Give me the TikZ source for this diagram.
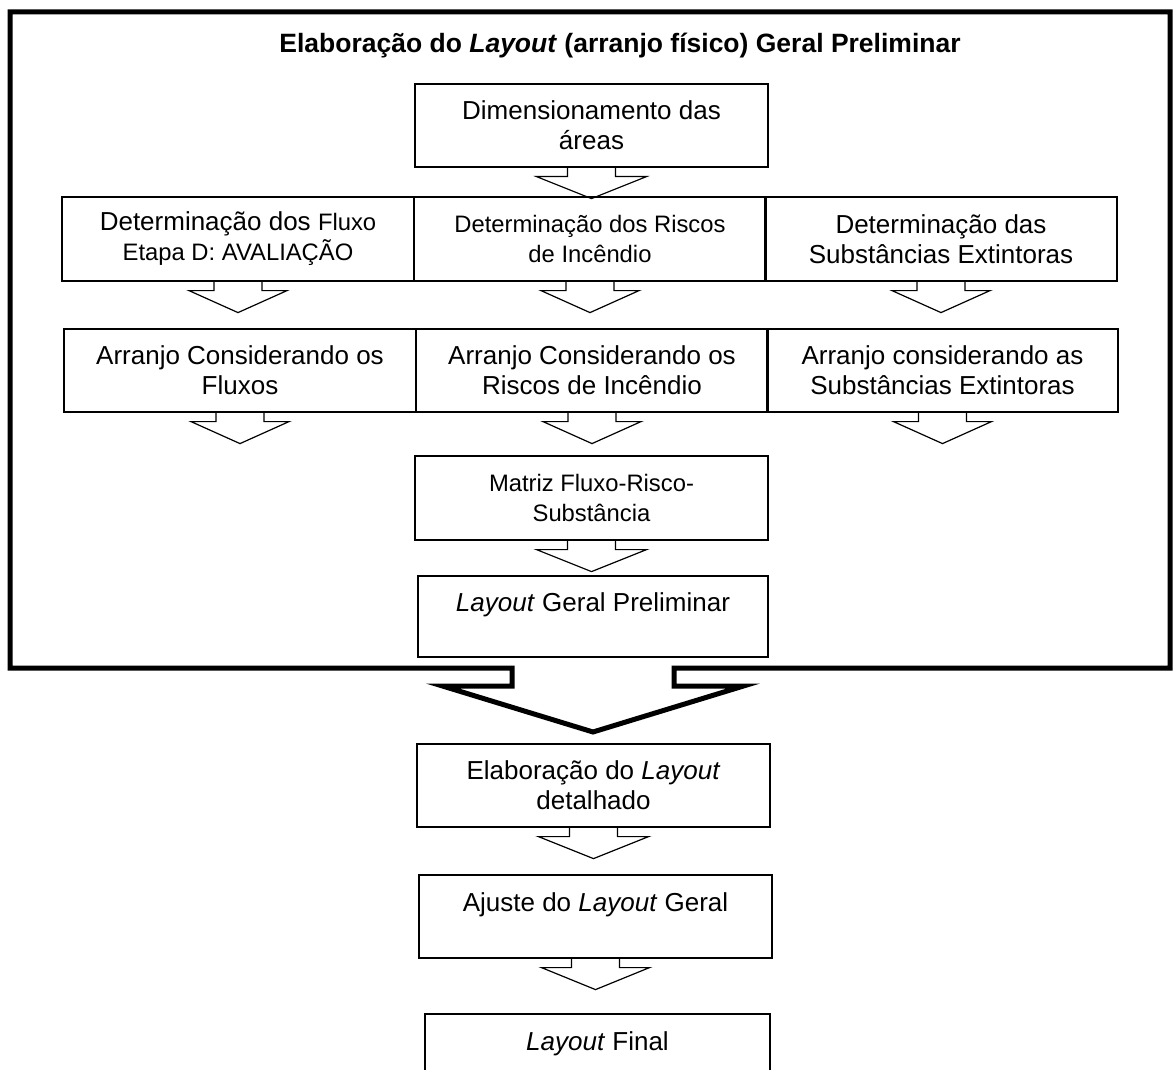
\documentclass[tikz,border=0pt]{standalone}
\usepackage{fontspec}
\setmainfont{Liberation Sans}
\usepackage{tikz}
\usetikzlibrary{calc}

\newcommand{\normaltxt}{\fontsize{26}{30}\selectfont}
\newcommand{\smalltxt}{\fontsize{23.8}{30}\selectfont}

\tikzset{
  stage/.style={draw, line width=1.2pt, align=center, inner sep=0pt,
    minimum width=352pt, minimum height=83pt, font=\normaltxt},
  oneline/.style={text depth=28pt},
  hollow/.style={draw, line width=1.2pt, line join=miter},
  outer/.style={draw, line width=5pt, line join=miter}
}

% seta vazada sob um bloco: #1 meia largura da cabeca, #2 bloco de origem
\newcommand{\blockarrow}[2][52]{%
  \draw[hollow] ($(#2.south)+(-24,0)$) -- ++(0,9) -- ++({24-#1},0) -- ($(#2.south)+(0,31)$)
    -- ($(#2.south)+(#1,9)$) -- ($(#2.south)+(24,9)$) -- ($(#2.south)+(24,0)$);}

\begin{document}
\begin{tikzpicture}[x=1pt, y=-1pt]
    \useasboundingbox (0,0) rectangle (1176,1070);

    \node[font=\bfseries\fontsize{26.5}{30}\selectfont, anchor=base] (title) at (620,53)
      {Elaboração do \textit{Layout} (arranjo físico) Geral Preliminar};

    \node[stage, minimum width=353pt] (dim) at (591.5,125.5) {Dimensionamento das\\áreas};

    \node[stage, minimum height=84pt] (detflux) at (238,239)
      {Determinação dos {\smalltxt Fluxo}\\{\smalltxt Etapa D: AVALIAÇÃO}};
    \node[stage, minimum height=84pt, font=\smalltxt] (detrisco) at (590,239)
      {Determinação dos Riscos\\de Incêndio};
    \node[stage, minimum height=84pt] (detsubst) at (941,239)
      {Determinação das\\Substâncias Extintoras};

    \node[stage] (arrflux) at (240,370.5) {Arranjo Considerando os\\Fluxos};
    \node[stage] (arrrisco) at (592,370.5) {Arranjo Considerando os\\Riscos de Incêndio};
    \node[stage, minimum width=351pt] (arrsubst) at (942.5,370.5)
      {Arranjo considerando as\\Substâncias Extintoras};

    \node[stage, minimum width=353pt, minimum height=84pt, font=\smalltxt] (matriz) at (591.5,498)
      {Matriz Fluxo-Risco-\\Substância};
    \node[stage, oneline, minimum width=350pt, minimum height=81pt] (prelim) at (593,616.5)
      {\textit{Layout} Geral Preliminar};

    \node[stage, minimum width=353pt] (detalhado) at (593.5,785.5)
      {Elaboração do \textit{Layout}\\detalhado};
    \node[stage, oneline, minimum width=353pt] (ajuste) at (595.5,916.5)
      {Ajuste do \textit{Layout} Geral};
    \node[stage, oneline, minimum width=345pt] (final) at (597.5,1055.5)
      {\textit{Layout} Final};

    \node[minimum width=1160pt, minimum height=656pt, inner sep=0pt, outer sep=0pt] (frame) at (590,340) {};
    \draw[outer] ($(frame.south -| prelim)+(-81,0)$) -| (frame.north west) -- (frame.north east)
      |- ($(frame.south -| prelim)+(81,0)$) -- ++(0,18) -- ++(69.5,0)
      -- ($(frame.south -| prelim)+(0,64)$) -- ($(frame.south -| prelim)+(-150.5,18)$)
      -- ($(frame.south -| prelim)+(-81,18)$) -- cycle;

    \blockarrow[55]{dim}
    \blockarrow[49]{detflux}
    \blockarrow[49]{detrisco}
    \blockarrow[49]{detsubst}
    \blockarrow[49]{arrflux}
    \blockarrow[49]{arrrisco}
    \blockarrow[49]{arrsubst}
    \blockarrow[55]{matriz}
    \blockarrow[55]{detalhado}
    \blockarrow[54]{ajuste}
\end{tikzpicture}
\end{document}
